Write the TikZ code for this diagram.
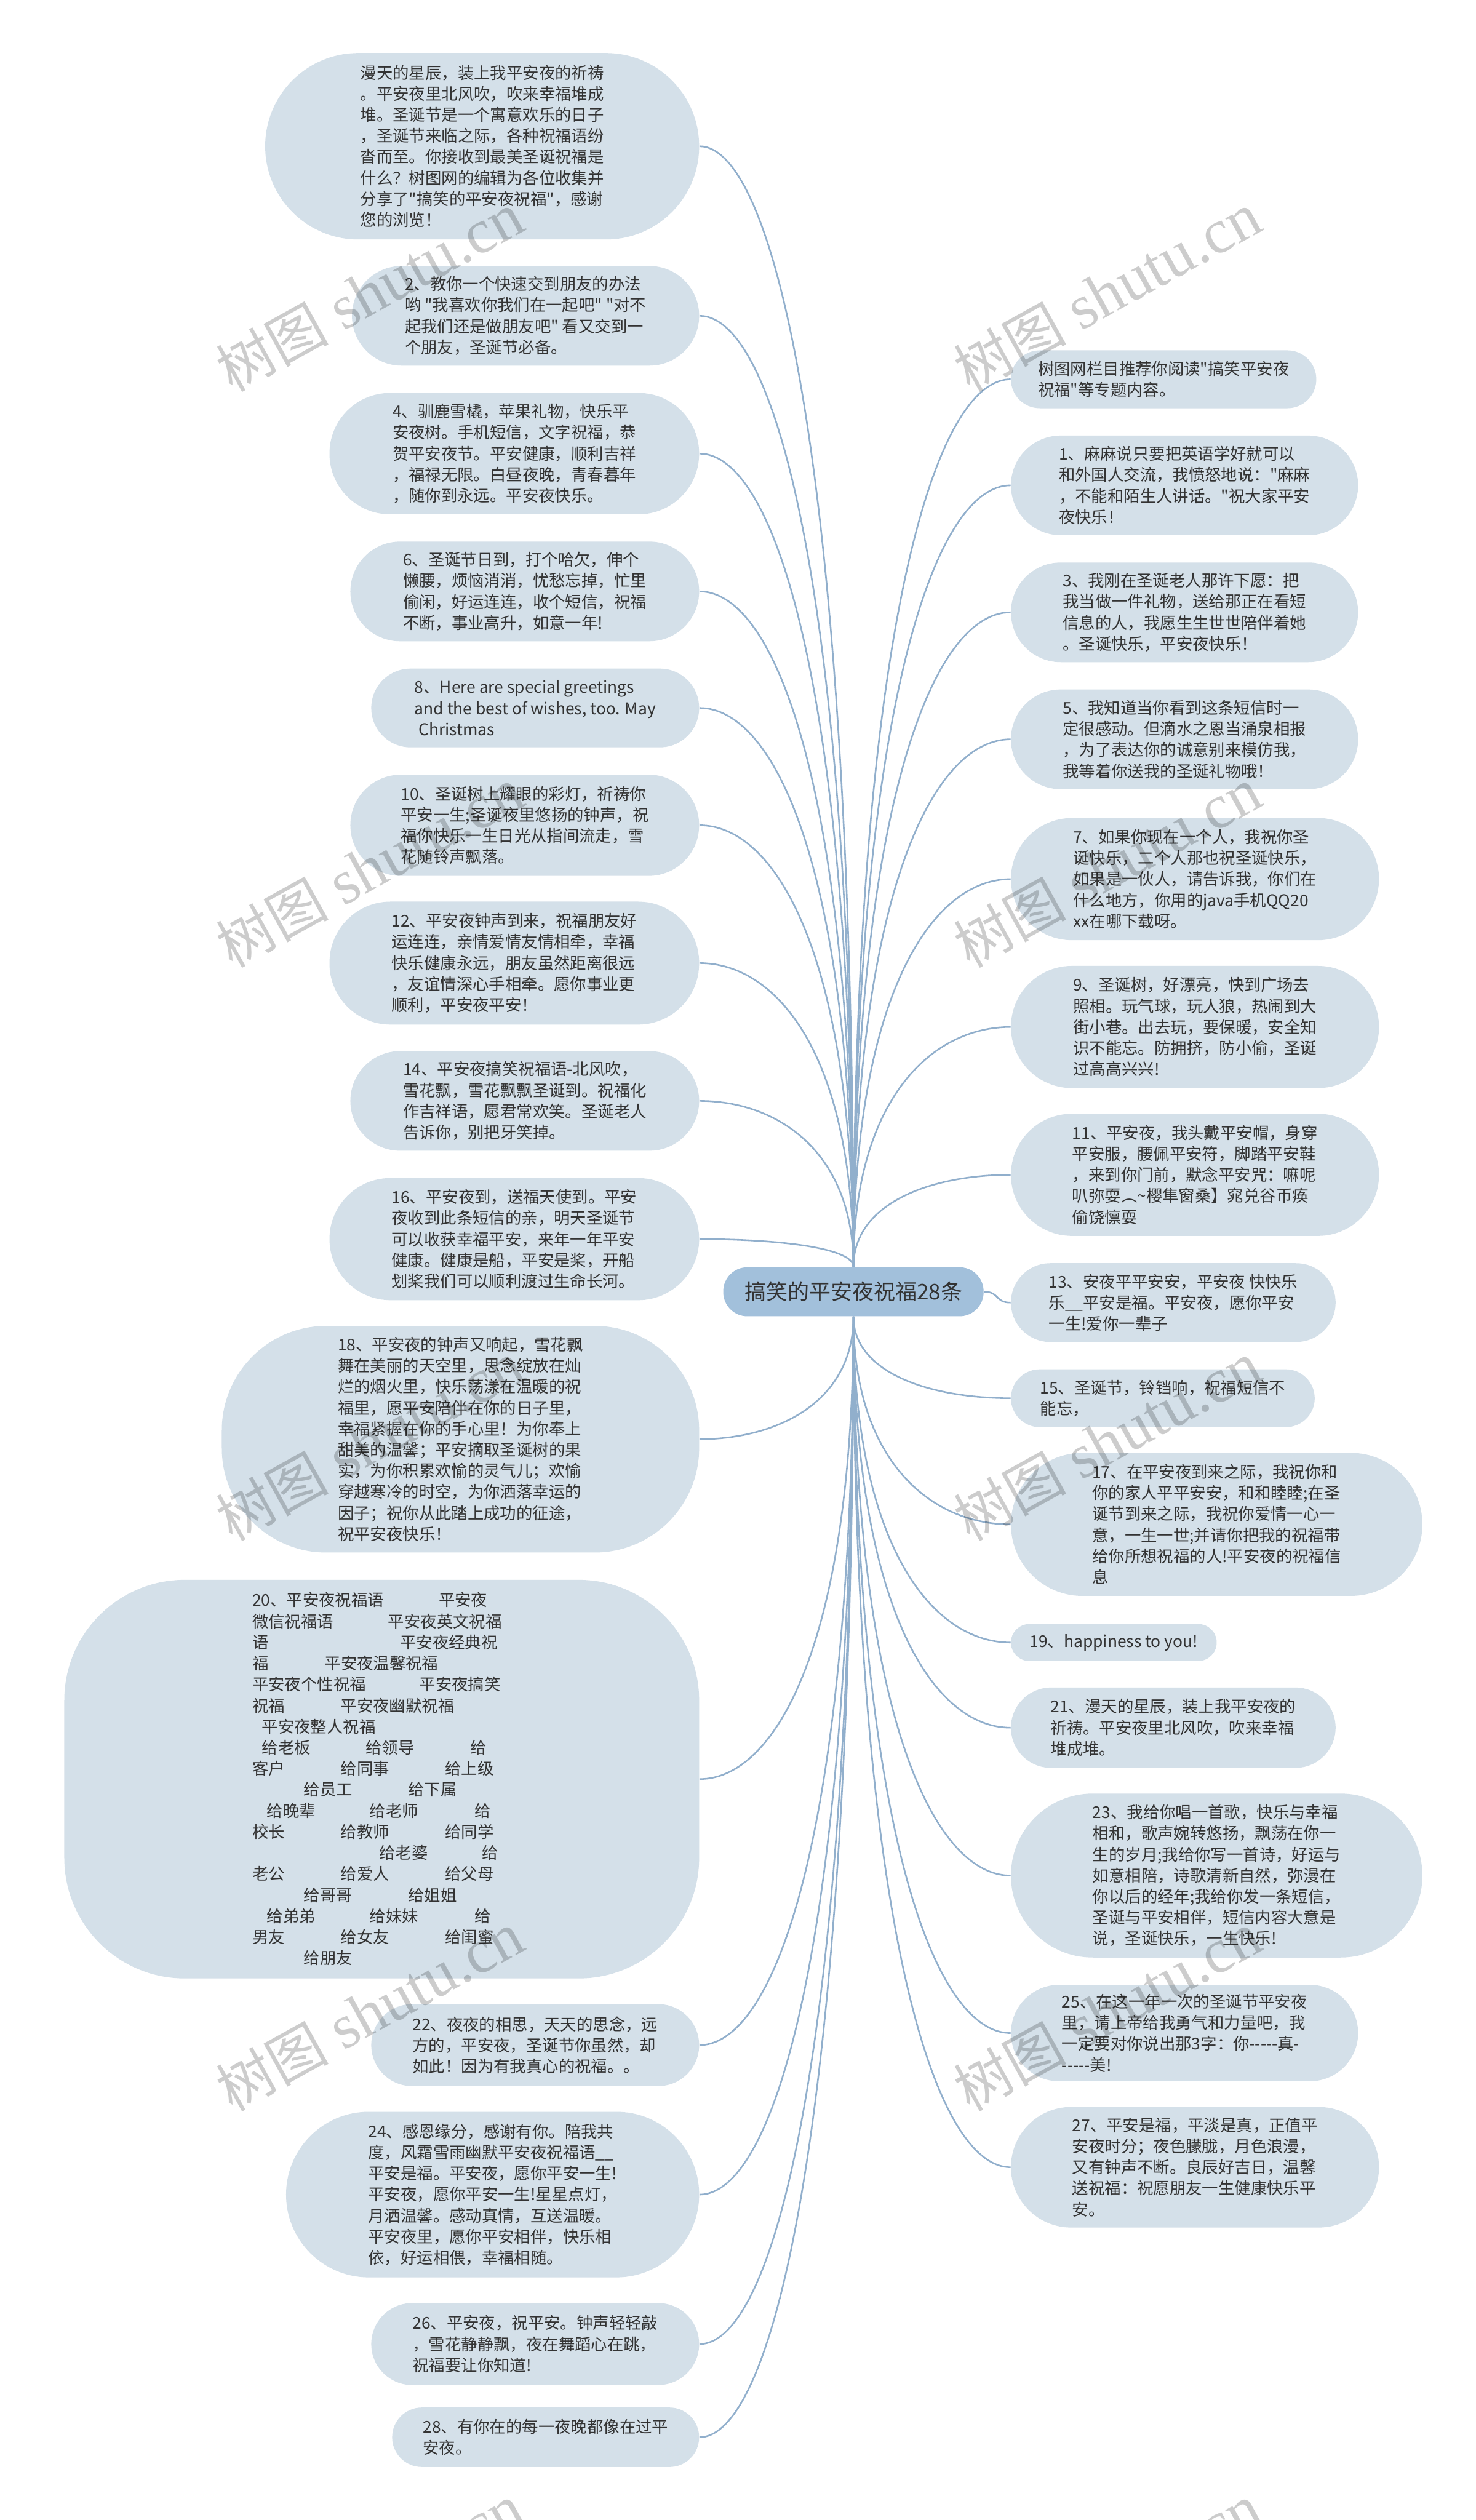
\documentclass[tikz,border=0pt]{standalone}
\usepackage{fontspec}
\newfontfamily\cjk{Noto Sans CJK SC}
\newfontfamily\wmlat{Liberation Serif}
\usetikzlibrary{calc}
\definecolor{leafc}{RGB}{212,224,233}
\definecolor{hubc}{RGB}{162,192,219}
\definecolor{linec}{RGB}{145,175,204}
\definecolor{txtc}{RGB}{51,51,51}
\pgfdeclarelayer{bg}\pgfdeclarelayer{fg}\pgfsetlayers{bg,main,fg}
\tikzset{
  leaf/.style={fill=leafc, align=left, inner sep=0pt, text=txtc,
    font=\cjk\fontsize{10.1}{13.1}\selectfont},
  hub/.style={fill=hubc, rounded corners=15pt, minimum width=162pt, minimum height=30.5pt,
    inner sep=0pt, text=txtc, font=\cjk\fontsize{13.4}{16}\selectfont},
  conn/.style={draw=linec, line width=1pt},
  wm/.style={rotate=29, text=black, text opacity=0.2, inner sep=0pt, font=\wmlat\fontsize{39}{39}\selectfont}
}
\newcommand\mkleaf[7]{\node[leaf,minimum width=#4pt,minimum height=#5pt,rounded corners=#6pt] (#1) at (#2,-#3) {#7};}
\newcommand\cnx[2]{\draw[conn] let \p1=(#1), \p2=(#2) in (\p1) .. controls (\x1,{\y2+0.3*((\y1)-(\y2))}) and ({\x2+0.5*((\x1)-(\x2))},\y2) .. (\p2);}
\newcommand\lrow[1]{\makebox[161pt][l]{#1}}
\newcommand\tb[2]{\makebox[0pt][l]{\hspace*{#1pt}#2}}
\begin{document}
\begin{tikzpicture}[x=1pt,y=1pt]
\useasboundingbox (0,0) rectangle (918,-1568);
\begin{pgfonlayer}{bg}
\fill[white] (0,0) rectangle (918,-1568);
\end{pgfonlayer}

\node[hub] (ctr) at (531,-803.75) {搞笑的平安夜祝福28条};

% left column
\mkleaf{Lintro}{300}{91}{270}{116}{58}{漫天的星辰，装上我平安夜的祈祷\\
。平安夜里北风吹，吹来幸福堆成\\
堆。圣诞节是一个寓意欢乐的日子\\
，圣诞节来临之际，各种祝福语纷\\
沓而至。你接收到最美圣诞祝福是\\
什么？树图网的编辑为各位收集并\\
分享了"搞笑的平安夜祝福"，感谢\\
您的浏览！}
\mkleaf{L2}{327}{196.5}{216}{62}{31}{2、教你一个快速交到朋友的办法\\
哟 "我喜欢你我们在一起吧" "对不\\
起我们还是做朋友吧" 看又交到一\\
个朋友，圣诞节必备。}
\mkleaf{L4}{320}{282.25}{230}{75.5}{37.7}{4、驯鹿雪橇，苹果礼物，快乐平\\
安夜树。手机短信，文字祝福，恭\\
贺平安夜节。平安健康，顺利吉祥\\
，福禄无限。白昼夜晚，青春暮年\\
，随你到永远。平安夜快乐。}
\mkleaf{L6}{326.5}{368}{217}{62}{31}{6、圣诞节日到，打个哈欠，伸个\\
懒腰，烦恼消消，忧愁忘掉，忙里\\
偷闲，好运连连，收个短信，祝福\\
不断，事业高升，如意一年!}
\mkleaf{L8}{333}{440.5}{204}{49}{24.5}{8、Here are special greetings\\
and the best of wishes, too. May\\
\hspace*{2.5pt}Christmas}
\mkleaf{L10}{326.5}{513.5}{217}{63}{31.5}{10、圣诞树上耀眼的彩灯，祈祷你\\
平安一生;圣诞夜里悠扬的钟声，祝\\
福你快乐一生日光从指间流走，雪\\
花随铃声飘落。}
\mkleaf{L12}{320}{599.25}{230}{76.5}{38}{12、平安夜钟声到来，祝福朋友好\\
运连连，亲情爱情友情相牵，幸福\\
快乐健康永远，朋友虽然距离很远\\
，友谊情深心手相牵。愿你事业更\\
顺利，平安夜平安！}
\mkleaf{L14}{326.5}{685}{217}{62}{31}{14、平安夜搞笑祝福语-北风吹，\\
雪花飘，雪花飘飘圣诞到。祝福化\\
作吉祥语，愿君常欢笑。圣诞老人\\
告诉你，别把牙笑掉。}
\mkleaf{L16}{320}{771}{230}{76}{38}{16、平安夜到，送福天使到。平安\\
夜收到此条短信的亲，明天圣诞节\\
可以收获幸福平安，来年一年平安\\
健康。健康是船，平安是桨，开船\\
划桨我们可以顺利渡过生命长河。}
\mkleaf{L18}{286.5}{895.5}{297}{141}{65}{18、平安夜的钟声又响起，雪花飘\\
舞在美丽的天空里，思念绽放在灿\\
烂的烟火里，快乐荡漾在温暖的祝\\
福里，愿平安陪伴在你的日子里，\\
幸福紧握在你的手心里！为你奉上\\
甜美的温馨；平安摘取圣诞树的果\\
实，为你积累欢愉的灵气儿；欢愉\\
穿越寒冷的时空，为你洒落幸运的\\
因子；祝你从此踏上成功的征途，\\
祝平安夜快乐！}
\mkleaf{L20}{237.5}{1107}{395}{248}{75}{\lrow{\tb{0}{20、平安夜祝福语}\tb{116}{平安夜}}\\
\lrow{\tb{0}{微信祝福语}\tb{84.5}{平安夜英文祝福}}\\
\lrow{\tb{0}{语}\tb{92}{平安夜经典祝}}\\
\lrow{\tb{0}{福}\tb{45}{平安夜温馨祝福}}\\
\lrow{\tb{0}{平安夜个性祝福}\tb{104}{平安夜搞笑}}\\
\lrow{\tb{0}{祝福}\tb{55}{平安夜幽默祝福}}\\
\lrow{\tb{6}{平安夜整人祝福}}\\
\lrow{\tb{6}{给老板}\tb{70.5}{给领导}\tb{135.6}{给}}\\
\lrow{\tb{0}{客户}\tb{55}{给同事}\tb{120}{给上级}}\\
\lrow{\tb{32}{给员工}\tb{97}{给下属}}\\
\lrow{\tb{9}{给晚辈}\tb{73}{给老师}\tb{138.5}{给}}\\
\lrow{\tb{0}{校长}\tb{55}{给教师}\tb{120}{给同学}}\\
\lrow{\tb{79}{给老婆}\tb{143}{给}}\\
\lrow{\tb{0}{老公}\tb{55}{给爱人}\tb{120}{给父母}}\\
\lrow{\tb{32}{给哥哥}\tb{97}{给姐姐}}\\
\lrow{\tb{9}{给弟弟}\tb{73}{给妹妹}\tb{138.5}{给}}\\
\lrow{\tb{0}{男友}\tb{55}{给女友}\tb{120}{给闺蜜}}\\
\lrow{\tb{32}{给朋友}}}
\mkleaf{L22}{333}{1272.5}{204}{51}{25.5}{22、夜夜的相思，天天的思念，远\\
方的，平安夜，圣诞节你虽然，却\\
如此！因为有我真心的祝福。。}
\mkleaf{L24}{306.5}{1365.5}{257}{103}{51.5}{24、感恩缘分，感谢有你。陪我共\\
度，风霜雪雨幽默平安夜祝福语\_\_\\
平安是福。平安夜，愿你平安一生!\\
平安夜，愿你平安一生!星星点灯，\\
月洒温馨。感动真情，互送温暖。\\
平安夜里，愿你平安相伴，快乐相\\
依，好运相偎，幸福相随。}
\mkleaf{L26}{333}{1458.5}{204}{51}{25.5}{26、平安夜，祝平安。钟声轻轻敲\\
，雪花静静飘，夜在舞蹈心在跳，\\
祝福要让你知道!}
\mkleaf{L28}{339.5}{1516.5}{191}{37}{18.5}{28、有你在的每一夜晚都像在过平\\
安夜。}

% right column
\mkleaf{R0}{724}{236}{190}{36}{18}{树图网栏目推荐你阅读"搞笑平安夜\\
祝福"等专题内容。}
\mkleaf{R1}{737}{302}{216}{62}{31}{1、麻麻说只要把英语学好就可以\\
和外国人交流，我愤怒地说："麻麻\\
，不能和陌生人讲话。"祝大家平安\\
夜快乐！}
\mkleaf{R3}{737}{381}{216}{62}{31}{3、我刚在圣诞老人那许下愿：把\\
我当做一件礼物，送给那正在看短\\
信息的人，我愿生生世世陪伴着她\\
。圣诞快乐，平安夜快乐！}
\mkleaf{R5}{737}{460}{216}{62}{31}{5、我知道当你看到这条短信时一\\
定很感动。但滴水之恩当涌泉相报\\
，为了表达你的诚意别来模仿我，\\
我等着你送我的圣诞礼物哦！}
\mkleaf{R7}{743.5}{547}{229}{76}{38}{7、如果你现在一个人，我祝你圣\\
诞快乐，二个人那也祝圣诞快乐，\\
如果是一伙人，请告诉我，你们在\\
什么地方，你用的java手机QQ20\\
xx在哪下载呀。}
\mkleaf{R9}{743.5}{639}{229}{76}{38}{9、圣诞树，好漂亮，快到广场去\\
照相。玩气球，玩人狼，热闹到大\\
街小巷。出去玩，要保暖，安全知\\
识不能忘。防拥挤，防小偷，圣诞\\
过高高兴兴!}
\mkleaf{R11}{743.5}{731}{229}{76}{38}{11、平安夜，我头戴平安帽，身穿\\
平安服，腰佩平安符，脚踏平安鞋\\
，来到你门前，默念平安咒：嘛呢\\
叭弥耍︵\char126 樱隼窗桑】窕兑谷币痪\\
偷饶懔耍}
\mkleaf{R13}{730}{810.5}{202}{49}{24.5}{13、安夜平平安安，平安夜 快快乐\\
乐\_\_平安是福。平安夜，愿你平安\\
一生!爱你一辈子}
\mkleaf{R15}{723.5}{870}{189}{36}{18}{15、圣诞节，铃铛响，祝福短信不\\
能忘，}
\mkleaf{R17}{757}{948.5}{256}{89}{44.5}{17、在平安夜到来之际，我祝你和\\
你的家人平平安安，和和睦睦;在圣\\
诞节到来之际，我祝你爱情一心一\\
意，一生一世;并请你把我的祝福带\\
给你所想祝福的人!平安夜的祝福信\\
息}
\mkleaf{R19}{693}{1022}{128}{23}{11.5}{19、happiness to you!}
\mkleaf{R21}{730}{1075}{202}{50}{25}{21、漫天的星辰，装上我平安夜的\\
祈祷。平安夜里北风吹，吹来幸福\\
堆成堆。}
\mkleaf{R23}{757}{1167}{256}{102}{51}{23、我给你唱一首歌，快乐与幸福\\
相和，歌声婉转悠扬，飘荡在你一\\
生的岁月;我给你写一首诗，好运与\\
如意相陪，诗歌清新自然，弥漫在\\
你以后的经年;我给你发一条短信，\\
圣诞与平安相伴，短信内容大意是\\
说，圣诞快乐，一生快乐!}
\mkleaf{R25}{737}{1265}{216}{60}{30}{25、在这一年一次的圣诞节平安夜\\
里，请上帝给我勇气和力量吧，我\\
一定要对你说出那3字：你-{}-{}-{}-{}-真-\\
-{}-{}-{}-{}-美!}
\mkleaf{R27}{743.5}{1348.5}{229}{75}{37.5}{27、平安是福，平淡是真，正值平\\
安夜时分；夜色朦胧，月色浪漫，\\
又有钟声不断。良辰好吉日，温馨\\
送祝福：祝愿朋友一生健康快乐平\\
安。}

% connectors
\begin{pgfonlayer}{bg}
\foreach \nm in {Lintro,L2,L4,L6,L8,L10,L12,L14,L16} {\cnx{ctr.north}{\nm.east}}
\foreach \nm in {L18,L20,L22,L24,L26,L28} {\cnx{ctr.south}{\nm.east}}
\foreach \nm in {R0,R1,R3,R5,R7,R9,R11} {\cnx{ctr.north}{\nm.west}}
\foreach \nm in {R15,R17,R19,R21,R23,R25,R27} {\cnx{ctr.south}{\nm.west}}
\draw[conn] (ctr.east) .. controls +(10,0) and +(-10,0) .. (R13.west);
\end{pgfonlayer}

% watermark
\begin{pgfonlayer}{fg}
\foreach \wx/\wy [count=\i] in {230/182,689/540,230/540,689/182,230/897,689/897,230/1252,689/1252,230/1608,689/1608}
  {\node[wm] (wm\i) at (\wx,-\wy) {{\cjk\fontsize{35}{35}\selectfont 树图}\hspace{9pt}shutu.cn};}
\end{pgfonlayer}
\end{tikzpicture}
\end{document}
